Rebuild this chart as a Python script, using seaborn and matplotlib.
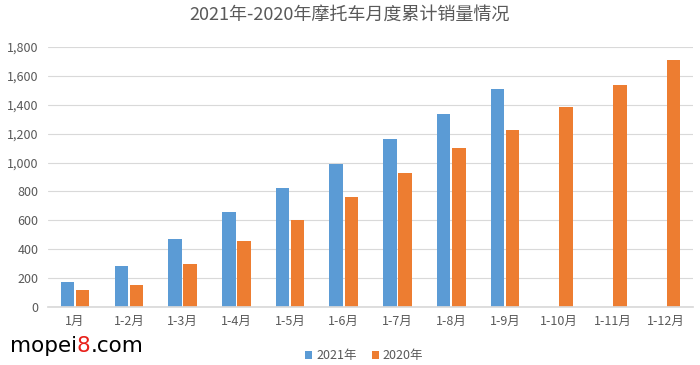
import pandas as pd
import seaborn as sns
import matplotlib.pyplot as plt
from matplotlib.ticker import FuncFormatter

# cumulative motorcycle sales by month range
periods = ['1月', '1-2月', '1-3月', '1-4月', '1-5月', '1-6月',
           '1-7月', '1-8月', '1-9月', '1-10月', '1-11月', '1-12月']
sales_2021 = [175, 285, 470, 655, 825, 990, 1165, 1335, 1510, None, None, None]
sales_2020 = [115, 150, 295, 460, 605, 765, 930, 1100, 1225, 1385, 1540, 1710]
series_names = ['2021年', '2020年']

df = pd.DataFrame({
    'period': periods * 2,
    'value': sales_2021 + sales_2020,
    'year': [series_names[0]] * len(periods) + [series_names[1]] * len(periods),
})

sns.set_theme(style='white')
plt.rcParams['font.family'] = ['Noto Sans CJK SC', 'DejaVu Sans']

fig = plt.figure(figsize=(7, 3.65), dpi=100)
ax = fig.add_axes([0.069, 0.159, 0.921, 0.712])

sns.barplot(data=df, x='period', y='value', hue='year', order=periods,
            hue_order=series_names, palette=['#5B9BD5', '#ED7D31'],
            saturation=1, width=0.56, gap=0.1, linewidth=0, ax=ax,
            legend=True)

ax.set_ylim(0, 1800)
ax.set_yticks(range(0, 1801, 200))
ax.yaxis.set_major_formatter(FuncFormatter(lambda v, p: f'{int(v):,}'))
ax.grid(axis='y', color='#D9D9D9', linewidth=0.8)
ax.set_axisbelow(True)
for s in ['top', 'right', 'left']:
    ax.spines[s].set_visible(False)
ax.spines['bottom'].set_color('#D9D9D9')
ax.tick_params(axis='both', length=0, labelsize=9, colors='#595959')
ax.tick_params(axis='x', pad=6)
ax.tick_params(axis='y', pad=7)
ax.set_xlabel('')
ax.set_ylabel('')

ax.legend(loc='lower center', bbox_to_anchor=(0.49, -0.255), ncol=2,
          frameon=False, fontsize=9, handlelength=0.6, handleheight=0.6,
          handletextpad=0.3, columnspacing=1.2, labelcolor='#595959')

fig.suptitle('2021年-2020年摩托车月度累计销量情况', y=0.985, fontsize=13,
             color='#595959')

# watermark
t1 = fig.text(0.014, 0.035, 'mopei', fontsize=15.5, color='black',
              family='DejaVu Sans')
t2 = ax.annotate('8', xy=(1, 0), xycoords=t1, va='bottom', fontsize=15.5,
                 color='#E8201A', family='DejaVu Sans', annotation_clip=False)
ax.annotate('.com', xy=(1, 0), xycoords=t2, va='bottom', fontsize=15.5,
            color='black', family='DejaVu Sans', annotation_clip=False)

fig.savefig('out.png', dpi=100)
